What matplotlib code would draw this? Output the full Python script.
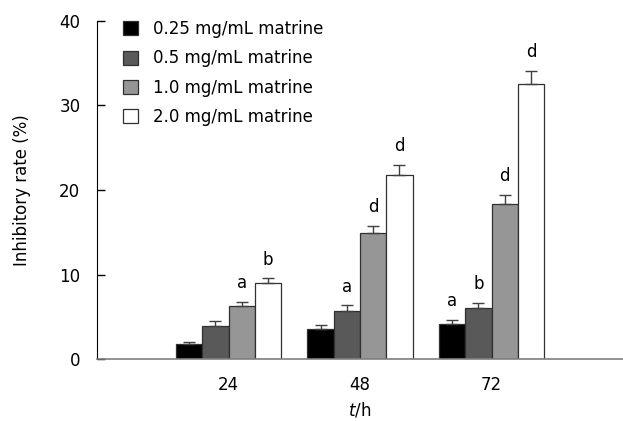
import matplotlib
matplotlib.use("Agg")
import matplotlib.pyplot as plt
import numpy as np

categories = ["24", "48", "72"]
series_names = ["0.25 mg/mL matrine", "0.5 mg/mL matrine", "1.0 mg/mL matrine", "2.0 mg/mL matrine"]
values = {
    "0.25 mg/mL matrine": [1.78, 3.6, 4.2],
    "0.5 mg/mL matrine": [3.9, 5.73, 6.07],
    "1.0 mg/mL matrine": [6.3, 14.95, 18.4],
    "2.0 mg/mL matrine": [9.0, 21.74, 32.5],
}
errors = {
    "0.25 mg/mL matrine": [0.31, 0.43, 0.42],
    "0.5 mg/mL matrine": [0.64, 0.63, 0.6],
    "1.0 mg/mL matrine": [0.46, 0.78, 1.0],
    "2.0 mg/mL matrine": [0.56, 1.19, 1.6],
}
letters = {
    "0.25 mg/mL matrine": ["", "", "a"],
    "0.5 mg/mL matrine": ["", "a", "b"],
    "1.0 mg/mL matrine": ["a", "d", "d"],
    "2.0 mg/mL matrine": ["b", "d", "d"],
}
colors = ["#000000", "#595959", "#969696", "#ffffff"]

plt.rcParams['font.family'] = ['DejaVu Sans']
fs = 12

fig = plt.figure(figsize=(6.23, 4.21), dpi=100)
ax = fig.add_axes([97/623, (421-359.3)/421, 1 - 97/623, (359.3-20.7)/421])

x = np.arange(len(categories))
w = 0.2
for i, name in enumerate(series_names):
    xs = x + (i - 1.5) * w
    ax.bar(xs, values[name], width=w, color=colors[i], edgecolor="#303030",
           linewidth=0.9, label=name, zorder=2)
    ax.errorbar(xs, values[name], yerr=[np.zeros(len(x)), errors[name]], fmt="none",
                ecolor="#404040", elinewidth=1.0, capsize=4, capthick=1.0, zorder=3)
    for xi, v, e, t in zip(xs, values[name], errors[name], letters[name]):
        if t:
            ax.annotate(t, (xi, v + e), xytext=(0, 7), textcoords="offset points",
                        ha="center", va="bottom", fontsize=fs)

ax.set_xlim(-1, 3)
ax.set_ylim(0, 40)
ax.set_yticks([0, 10, 20, 30, 40])
ax.set_xticks(x)
ax.set_xticklabels(categories)
ax.tick_params(axis="y", direction="in", length=6, width=1, pad=12, labelsize=fs)
ax.tick_params(axis="x", length=0, pad=12, labelsize=fs)
for s in ["top", "right"]:
    ax.spines[s].set_visible(False)
ax.spines["left"].set_color("#000000")
ax.spines["bottom"].set_color("#808080")
ax.spines["bottom"].set_linewidth(1.2)
ax.set_ylabel("Inhibitory rate (%)", fontsize=fs, labelpad=20)
ax.set_xlabel("$\\mathit{t}$/h", fontsize=fs, labelpad=5)

leg = ax.legend(loc="upper left", bbox_to_anchor=(123/623, 1 - 20/421),
                bbox_transform=fig.transFigure, frameon=False, fontsize=fs,
                handlelength=0.9, handleheight=0.9, handletextpad=0.9,
                labelspacing=0.68, borderpad=0, borderaxespad=0)

fig.savefig("out.png", dpi=100)
